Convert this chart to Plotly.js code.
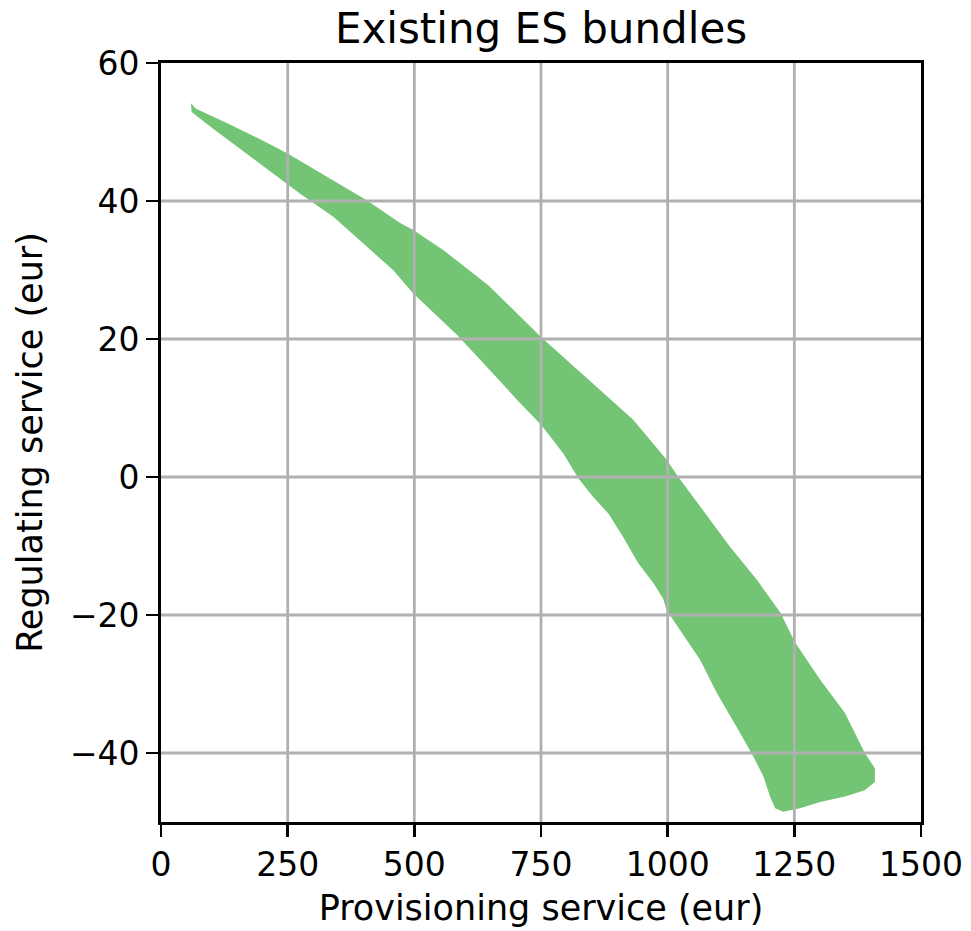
<!DOCTYPE html>
<html>
<head>
<meta charset="utf-8">
<script src="https://cdn.plot.ly/plotly-3.0.1.min.js"></script>
<style>html,body{margin:0;padding:0;background:#fff;}#chart{width:971px;height:931px;}</style>
</head>
<body>
<div id="chart"></div>
<script>
// Upper boundary of the region (left to right), Provisioning (eur) vs Regulating (eur)
const upperX = [59, 68, 130, 189, 250, 340, 406, 472, 498, 557, 646, 750, 866, 932, 998, 1021, 1123, 1176, 1222, 1251, 1301, 1350, 1389, 1409, 1409, 1389, 1350, 1301, 1261, 1228, 1212];
const upperY = [54.2, 53.4, 51.3, 49.2, 46.9, 43.0, 40.1, 36.8, 35.8, 32.9, 27.8, 20.3, 12.6, 8.3, 2.5, 0.0, -10.1, -14.9, -19.6, -23.9, -29.4, -34.2, -40.0, -42.2, -44.2, -45.4, -46.3, -47.1, -48.0, -48.5, -48.0];
// Lower boundary of the region (right to left)
const lowerX = [1202, 1189, 1169, 1143, 1097, 1064, 1024, 998, 991, 972, 942, 912, 883, 853, 824, 794, 751, 709, 630, 584, 498, 458, 406, 340, 274, 176, 97, 60.5];
const lowerY = [-46.3, -43.4, -40.5, -37.1, -31.3, -26.5, -22.2, -19.3, -17.6, -15.4, -12.5, -8.7, -5.3, -2.9, -0.2, 3.4, 7.5, 10.7, 17.0, 20.6, 26.6, 30.0, 33.4, 37.7, 41.1, 46.4, 50.8, 52.9];

const xTicks = [0, 250, 500, 750, 1000, 1250, 1500];
const yTicks = [-40, -20, 0, 20, 40, 60];
const xRange = [0, 1500];
const yRange = [-50, 60];

const polyX = upperX.concat(lowerX);
const polyY = upperY.concat(lowerY);

const FONT = 'DejaVu Sans, sans-serif';
const GRID = '#b0b0b0';

const trace = {
  type: 'scatter',
  mode: 'lines',
  x: polyX,
  y: polyY,
  fill: 'toself',
  fillcolor: '#74c476',
  line: {width: 0, color: '#74c476'},
  hoverinfo: 'skip',
  showlegend: false
};

// grid lines drawn above the filled region (as in the reference), at the tick values
const gridShapes = [];
xTicks.filter(v => v > xRange[0] && v < xRange[1]).forEach(v => {
  gridShapes.push({type: 'line', layer: 'above', xref: 'x', yref: 'paper', x0: v, x1: v, y0: 0, y1: 1,
    line: {color: GRID, width: 2.8}});
});
yTicks.filter(v => v > yRange[0] && v < yRange[1]).forEach(v => {
  gridShapes.push({type: 'line', layer: 'above', xref: 'paper', yref: 'y', x0: 0, x1: 1, y0: v, y1: v,
    line: {color: GRID, width: 2.8}});
});

const axisCommon = {
  showline: true,
  mirror: true,
  linecolor: '#000',
  linewidth: 2.8,
  ticks: 'outside',
  ticklen: 12,
  tickwidth: 2.8,
  tickcolor: '#000',
  showgrid: false,
  zeroline: false,
  layer: 'above traces',
  automargin: false,
  tickfont: {family: FONT, size: 33, color: '#000'}
};

const layout = {
  width: 971,
  height: 931,
  margin: {l: 161, r: 50, t: 63, b: 109},
  paper_bgcolor: '#fff',
  plot_bgcolor: '#fff',
  font: {family: FONT, color: '#000'},
  title: {
    text: 'Existing ES bundles',
    font: {family: FONT, size: 42, color: '#000'},
    x: 0.5, xanchor: 'center', xref: 'paper',
    y: 1 - 28/931, yanchor: 'middle', yref: 'container'
  },
  xaxis: Object.assign({}, axisCommon, {
    range: xRange,
    tickmode: 'array',
    tickvals: xTicks,
    ticktext: xTicks.map(String),
    title: {text: 'Provisioning service (eur)', font: {family: FONT, size: 35, color: '#000'}, standoff: 12}
  }),
  yaxis: Object.assign({}, axisCommon, {
    range: yRange,
    tickmode: 'array',
    tickvals: yTicks,
    ticktext: yTicks.map(v => v < 0 ? '\u2212' + Math.abs(v) : String(v)),
    title: {text: 'Regulating service (eur)', font: {family: FONT, size: 35, color: '#000'}, standoff: 17}
  }),
  shapes: gridShapes
};

Plotly.newPlot('chart', [trace], layout, {displayModeBar: false, staticPlot: true});
</script>
</body>
</html>
